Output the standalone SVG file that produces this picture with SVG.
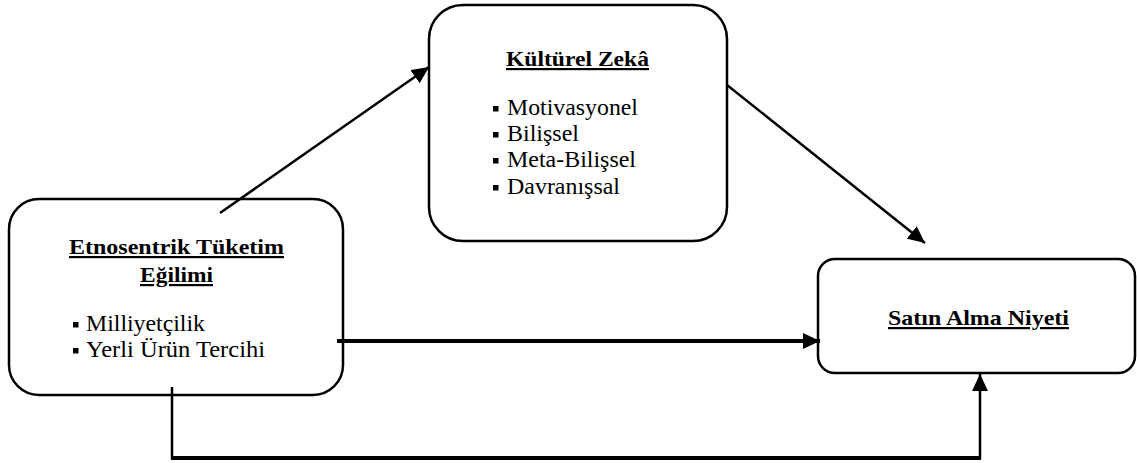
<svg xmlns="http://www.w3.org/2000/svg" width="1137" height="463" viewBox="0 0 1137 463">
<style>
.box{fill:#fff;stroke:#000;stroke-width:2.5}
.t{font-family:"Liberation Serif","Times New Roman",serif;fill:#000;font-weight:bold;font-size:22px;text-decoration:underline}
.i{font-family:"Liberation Serif","Times New Roman",serif;fill:#000;font-size:24px}
.b{fill:#000}
.c{stroke:#000;fill:none;stroke-width:2.5}
.c4{stroke:#000;fill:none;stroke-width:4}
</style>
<defs>
<marker id="ah" markerUnits="userSpaceOnUse" markerWidth="18" markerHeight="16" refX="17" refY="8" orient="auto">
<path d="M0,0 L17,8 L0,16 Z" fill="#000"/>
</marker>
</defs>
<g id="node-etnosentrik">
<rect class="box" x="9" y="199" width="334" height="196" rx="30"/>
<text class="t" x="69" y="254" textLength="215" lengthAdjust="spacingAndGlyphs">Etnosentrik Tüketim</text>
<text class="t" x="140" y="282" textLength="73" lengthAdjust="spacingAndGlyphs">Eğilimi</text>
<rect class="b" x="73" y="322" width="5.5" height="5.5"/>
<text class="i" x="86" y="331" textLength="119" lengthAdjust="spacingAndGlyphs">Milliyetçilik</text>
<rect class="b" x="73" y="348" width="5.5" height="5.5"/>
<text class="i" x="86" y="357" textLength="179" lengthAdjust="spacingAndGlyphs">Yerli Ürün Tercihi</text>
</g>
<g id="node-kulturel">
<rect class="box" x="429" y="5" width="298" height="236" rx="34"/>
<text class="t" x="506" y="66" textLength="143" lengthAdjust="spacingAndGlyphs">Kültürel Zekâ</text>
<rect class="b" x="493" y="106" width="5.5" height="5.5"/>
<text class="i" x="507" y="115" textLength="131" lengthAdjust="spacingAndGlyphs">Motivasyonel</text>
<rect class="b" x="493" y="132" width="5.5" height="5.5"/>
<text class="i" x="507" y="141" textLength="72" lengthAdjust="spacingAndGlyphs">Bilişsel</text>
<rect class="b" x="493" y="158" width="5.5" height="5.5"/>
<text class="i" x="507" y="167" textLength="129" lengthAdjust="spacingAndGlyphs">Meta-Bilişsel</text>
<rect class="b" x="493" y="185" width="5.5" height="5.5"/>
<text class="i" x="507" y="194" textLength="113" lengthAdjust="spacingAndGlyphs">Davranışsal</text>
</g>
<g id="node-satin">
<rect class="box" x="818" y="259" width="317" height="114" rx="17"/>
<text class="t" x="888" y="325" textLength="181" lengthAdjust="spacingAndGlyphs">Satın Alma Niyeti</text>
</g>
<g id="connectors">
<line class="c" x1="220" y1="213" x2="429" y2="67" marker-end="url(#ah)"/>
<line class="c" x1="727" y1="85" x2="925" y2="243" marker-end="url(#ah)"/>
<line class="c4" x1="337" y1="341" x2="820" y2="341" marker-end="url(#ah)"/>
<line class="c" x1="172" y1="387" x2="172" y2="459"/>
<line class="c4" x1="171" y1="458" x2="981" y2="458"/>
<line class="c" x1="980" y1="459" x2="980" y2="374" marker-end="url(#ah)"/>
</g>
</svg>
